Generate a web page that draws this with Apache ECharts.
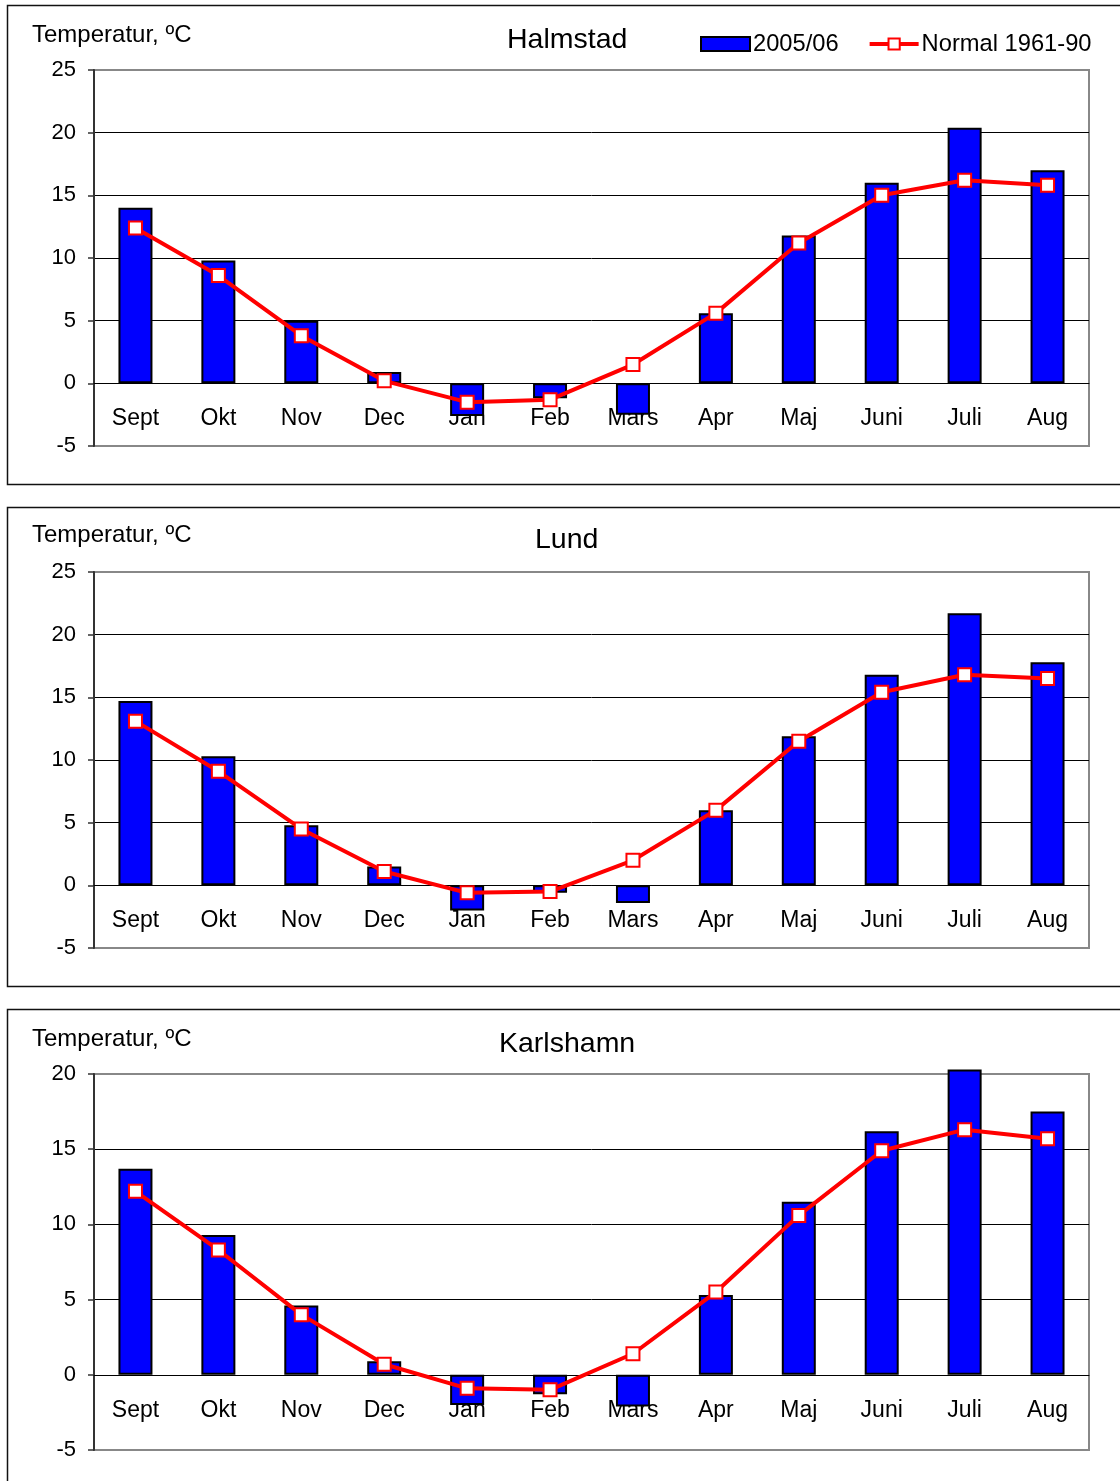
<!DOCTYPE html>
<html><head><meta charset="utf-8">
<script src="https://cdn.jsdelivr.net/npm/echarts@6/dist/echarts.min.js"></script>
<style>html,body{margin:0;padding:0;background:#fff}#c{width:1120px;height:1481px}</style>
</head><body><div id="c"></div>
<script>
const months = ['Sept','Okt','Nov','Dec','Jan','Feb','Mars','Apr','Maj','Juni','Juli','Aug'];
const stations = ['Halmstad','Lund','Karlshamn'];
const seriesNames = ['2005/06','Normal 1961-90'];
const yAxisTitle = 'Temperatur, ºC';
const halmstad2005 = [14.0,9.8,5.0,0.9,-2.6,-1.2,-2.5,5.6,11.8,16.0,20.4,17.0];
const halmstadNormal = [12.4,8.6,3.8,0.2,-1.5,-1.3,1.5,5.6,11.2,15.0,16.2,15.8];
const lund2005 = [14.7,10.3,4.8,1.5,-2.0,-0.6,-1.4,6.0,11.9,16.8,21.7,17.8];
const lundNormal = [13.1,9.1,4.5,1.1,-0.6,-0.5,2.0,6.0,11.5,15.4,16.8,16.5];
const karlshamn2005 = [13.7,9.3,4.6,0.9,-2.0,-1.3,-2.1,5.3,11.5,16.2,20.3,17.5];
const karlshamnNormal = [12.2,8.3,4.0,0.7,-0.9,-1.0,1.4,5.5,10.6,14.9,16.3,15.7];
const yMins = [-5,-5,-5];
const yMaxs = [25,25,20];
const yStep = 5;

const barData = [halmstad2005, lund2005, karlshamn2005];
const lineData = [halmstadNormal, lundNormal, karlshamnNormal];

const FONT = "'Liberation Sans', Arial, sans-serif";
const panelTops = [5, 507, 1009];
const gridTops = [70, 572, 1074];
const gridH = 376;
const titleY = [38, 538, 1042];

const ctx = document.createElement('canvas').getContext('2d');
ctx.font = '28.5px ' + FONT;

const chart = echarts.init(document.getElementById('c'), null, {renderer:'canvas'});

const grids = [], xAxes = [], yAxes = [], series = [], titles = [], graphics = [];
for (let i = 0; i < 3; i++) {
  graphics.push({type:'rect', shape:{x:7.5, y:panelTops[i]+0.5, width:1120, height:479},
    style:{fill:'none', stroke:'#111', lineWidth:1.5}, z:-10, silent:true});
  graphics.push({type:'text', left:32, top:titleY[i]-15,
    style:{text:yAxisTitle, font:'24px ' + FONT, fill:'#000'}});
  titles.push({text:stations[i], left:Math.round(567 - ctx.measureText(stations[i]).width/2) - 5, top:titleY[i]-17,
    textStyle:{fontFamily:FONT, fontSize:28.5, fontWeight:'normal', color:'#000'}});
  grids.push({left:94, top:gridTops[i], width:995, height:gridH, show:true,
    borderColor:'#888', borderWidth:2, backgroundColor:'transparent'});
  // place the category axis on the zero line (distance from bottom edge in px)
  const zeroOffset = gridH * (0 - yMins[i]) / (yMaxs[i] - yMins[i]);
  xAxes.push({type:'category', gridIndex:i, data:months, boundaryGap:true, position:'bottom',
    offset:-zeroOffset, z:1,
    axisLine:{show:true, onZero:false, lineStyle:{color:'#000', width:1}},
    axisTick:{show:false},
    axisLabel:{fontFamily:FONT, fontSize:23, color:'#000', margin:24, interval:0},
    splitLine:{show:false}});
  yAxes.push({type:'value', gridIndex:i, min:yMins[i], max:yMaxs[i], interval:yStep,
    axisLine:{show:true, lineStyle:{color:'#333', width:2}},
    axisTick:{show:true, length:6, lineStyle:{color:'#333', width:1.5}},
    axisLabel:{fontFamily:FONT, fontSize:22, color:'#000', margin:18},
    splitLine:{show:true, showMinLine:false, showMaxLine:false, lineStyle:{color:'#000', width:1}}});
  series.push({type:'bar', name:seriesNames[0], xAxisIndex:i, yAxisIndex:i, data:barData[i],
    barWidth:34, clip:false,
    itemStyle:{color:'#0000FF', borderColor:'#000', borderWidth:2}, z:2});
  series.push({type:'line', name:seriesNames[1], xAxisIndex:i, yAxisIndex:i, data:lineData[i],
    symbol:'rect', symbolSize:13, clip:false,
    lineStyle:{color:'#FF0000', width:4},
    itemStyle:{color:'#FFFFFF', borderColor:'#FF0000', borderWidth:2}, z:4});
}

chart.setOption({
  animation:false,
  backgroundColor:'#fff',
  title: titles,
  legend:{left:695, top:27, itemWidth:49, itemHeight:14, itemGap:29,
    textStyle:{fontFamily:FONT, fontSize:23.7, color:'#000', padding:[0,0,0,-2]},
    data:[{name:seriesNames[0], icon:'rect', itemStyle:{color:'#0000FF', borderColor:'#000', borderWidth:2}},
          {name:seriesNames[1], lineStyle:{width:4, color:'#FF0000'}, itemStyle:{color:'#FFFFFF', borderColor:'#FF0000', borderWidth:2}}]},
  graphic: graphics,
  grid: grids, xAxis: xAxes, yAxis: yAxes, series: series
});
</script></body></html>
